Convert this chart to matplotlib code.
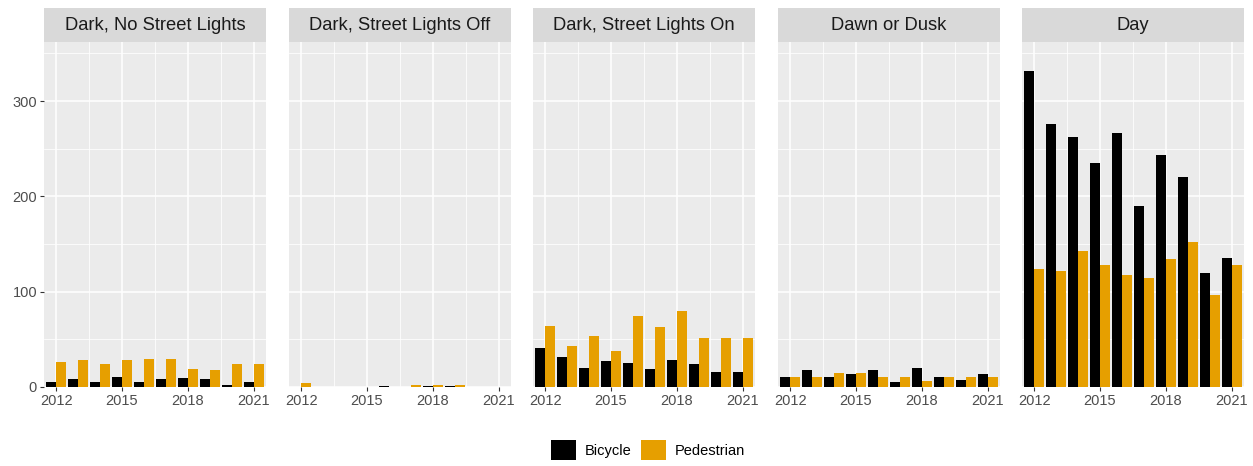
import matplotlib
matplotlib.use("Agg")
import matplotlib.pyplot as plt
import numpy as np
from matplotlib.patches import Patch

# -- data ---------------------------------------------------------------------
years = [2012, 2013, 2014, 2015, 2016, 2017, 2018, 2019, 2020, 2021]
conditions = ["Dark, No Street Lights", "Dark, Street Lights Off",
              "Dark, Street Lights On", "Dawn or Dusk", "Day"]

bike_dark_none = [5, 8, 5, 11, 5, 8, 9, 8, 2, 5]
ped_dark_none = [26, 28, 24, 28, 29, 29, 19, 18, 24, 24]
bike_dark_off = [0, 0, 0, 0, 1, 0, 1, 1, 0, 0]
ped_dark_off = [4, 0, 0, 0, 0, 2, 2, 2, 0, 0]
bike_dark_on = [41, 32, 20, 27, 25, 19, 28, 24, 16, 16]
ped_dark_on = [64, 43, 53, 38, 74, 63, 80, 51, 51, 51]
bike_dawn = [11, 18, 11, 14, 18, 5, 20, 11, 7, 14]
ped_dawn = [11, 11, 15, 15, 11, 11, 6, 11, 10, 10]
bike_day = [332, 276, 262, 235, 266, 190, 243, 220, 120, 135]
ped_day = [124, 122, 143, 128, 118, 114, 134, 152, 97, 128]

bike = [bike_dark_none, bike_dark_off, bike_dark_on, bike_dawn, bike_day]
ped = [ped_dark_none, ped_dark_off, ped_dark_on, ped_dawn, ped_day]

# -- style --------------------------------------------------------------------
PANEL = "#EBEBEB"
STRIP = "#D9D9D9"
TICK = "#4D4D4D"
ORANGE = "#E69F00"
plt.rcParams["font.family"] = ["Liberation Sans", "DejaVu Sans"]

W, H = 1253, 466
fig = plt.figure(figsize=(W / 100, H / 100), dpi=100)
fig.patch.set_facecolor("white")

lefts = [44, 289, 533, 778, 1022]
pw = 222
top, bottom, strip_top = 42, 387, 8

x = np.array(years)
for i, cond in enumerate(conditions):
    ax = fig.add_axes([lefts[i] / W, 1 - bottom / H, pw / W, (bottom - top) / H])
    ax.set_facecolor(PANEL)
    ax.bar(x - 0.225, bike[i], width=0.45, color="black", linewidth=0, zorder=3)
    ax.bar(x + 0.225, ped[i], width=0.45, color=ORANGE, linewidth=0, zorder=3)
    ax.set_xlim(2011.45, 2021.55)
    ax.set_ylim(0, 362)
    ax.set_xticks([2012, 2015, 2018, 2021])
    ax.set_xticks([2013.5, 2016.5, 2019.5], minor=True)
    ax.set_yticks([0, 100, 200, 300])
    ax.set_yticks([50, 150, 250, 350], minor=True)
    ax.grid(True, which="major", color="white", linewidth=1.1, zorder=0)
    ax.grid(True, which="minor", color="white", linewidth=0.55, zorder=0)
    ax.set_axisbelow(True)
    for s in ax.spines.values():
        s.set_visible(False)
    ax.tick_params(which="major", length=3, color="#333333", width=0.8,
                   labelsize=10.5, labelcolor=TICK, pad=2)
    ax.tick_params(which="minor", length=0)
    if i > 0:
        ax.tick_params(axis="y", which="both", length=0, labelleft=False)

    # facet strip
    sax = fig.add_axes([lefts[i] / W, 1 - top / H, pw / W, (top - strip_top) / H])
    sax.set_facecolor(STRIP)
    sax.set_xticks([]); sax.set_yticks([])
    for s in sax.spines.values():
        s.set_visible(False)
    sax.text(0.5, 0.5, cond, ha="center", va="center", fontsize=13.2,
             color="#1A1A1A", transform=sax.transAxes)

handles = [Patch(facecolor="black", edgecolor="none", label="Bicycle"),
           Patch(facecolor=ORANGE, edgecolor="none", label="Pedestrian")]
fig.legend(handles=handles, loc="center", bbox_to_anchor=(648 / W, 1 - 450 / H),
           ncol=2, frameon=False, fontsize=10.5, handlelength=1.7,
           handleheight=1.7, handletextpad=0.6, columnspacing=0.7)

fig.savefig("out.png", dpi=100, facecolor="white")
